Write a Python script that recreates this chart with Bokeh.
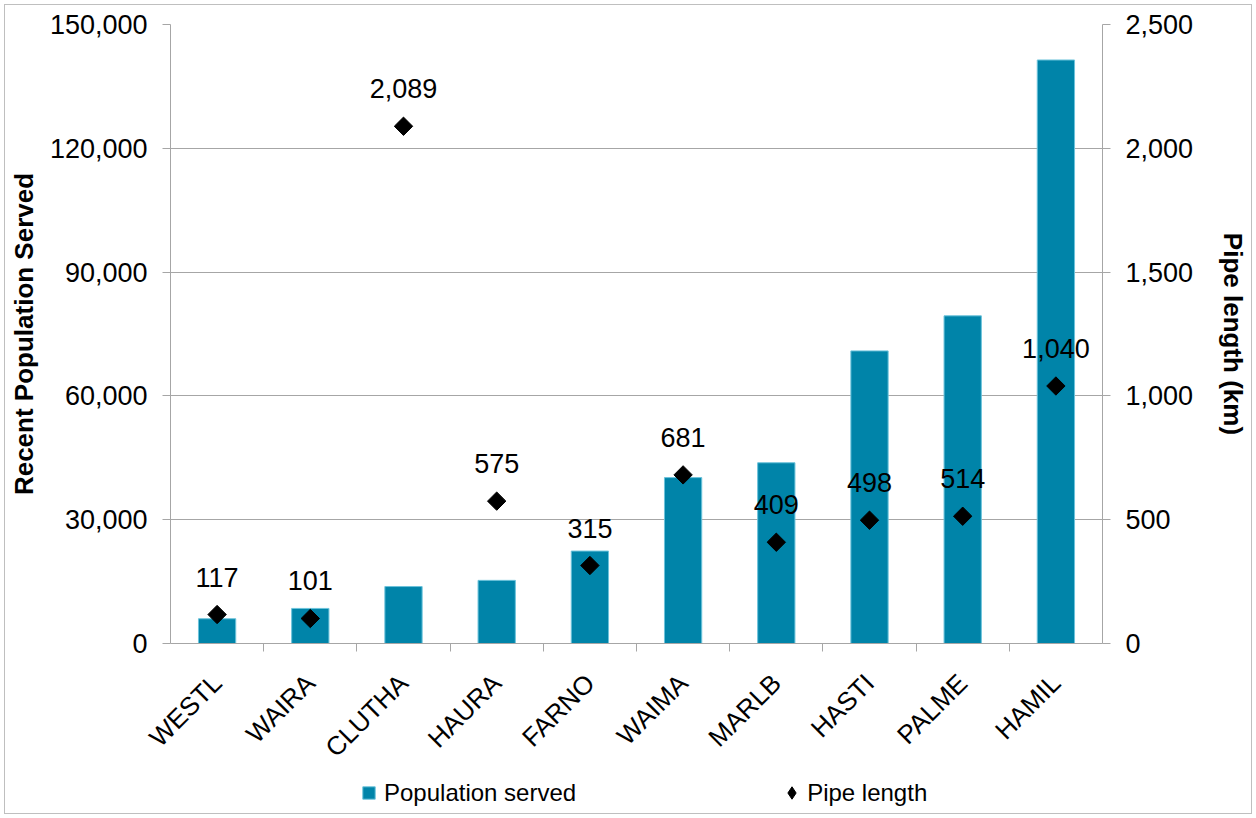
from math import pi

from bokeh.core.properties import value
from bokeh.embed import file_html
from bokeh.layouts import column
from bokeh.models import (CategoricalAxis, ColumnDataSource, CustomLabelingPolicy,
                          FactorRange, FixedTicker, Legend, LegendItem, LinearAxis,
                          NumeralTickFormatter, Range1d)
from bokeh.plotting import figure
from bokeh.resources import INLINE

# Water supply schemes
schemes = ["WESTL", "WAIRA", "CLUTHA", "HAURA", "FARNO",
           "WAIMA", "MARLB", "HASTI", "PALME", "HAMIL"]
population_served = [6000, 8500, 13800, 15300, 22400, 40200, 43800, 70900, 79400, 141400]
pipe_length_km = [117, 101, 2089, 575, 315, 681, 409, 498, 514, 1040]

pop_ticks = [0, 30000, 60000, 90000, 120000, 150000]
pipe_ticks = [0, 500, 1000, 1500, 2000, 2500]

FONT = "Liberation Sans"
GRID = "#a6a6a6"
BAR = "#0084a9"
BAR_EDGE = "#6cc3db"

src = ColumnDataSource(dict(
    scheme=schemes,
    pop=population_served,
    pipe=pipe_length_km,
    label=[f"{v:,}" for v in pipe_length_km],
))

p = figure(
    width=1246, height=772,
    x_range=FactorRange(*schemes, range_padding=0),
    y_range=Range1d(0, 150000),
    x_axis_location=None, y_axis_location=None,
    output_backend="svg", toolbar_location=None,
    min_border_left=160, min_border_right=148,
    min_border_top=19, min_border_bottom=134,
)
p.outline_line_color = None
p.background_fill_color = "white"
p.xgrid.grid_line_color = None
p.ygrid.ticker = FixedTicker(ticks=pop_ticks)
p.ygrid.grid_line_color = GRID

p.extra_y_ranges = {"pipe": Range1d(0, 2500)}
# one slot per category edge, used only to place the tick marks between bars
edges = [str(i) for i in range(len(schemes) + 1)]
p.extra_x_ranges = {"edges": FactorRange(*edges, range_padding=-1 / len(edges),
                                         range_padding_units="percent")}


def style_axis(ax):
    ax.axis_line_color = GRID
    ax.major_tick_line_color = GRID
    ax.minor_tick_line_color = None
    ax.major_tick_in = 0
    ax.major_tick_out = 8
    ax.major_label_text_font = FONT
    ax.major_label_text_font_size = "27px"
    ax.major_label_text_color = "black"
    ax.axis_label_text_font = FONT
    ax.axis_label_text_font_size = "26px"
    ax.axis_label_text_font_style = "bold"
    ax.axis_label_text_color = "black"


left = LinearAxis(ticker=FixedTicker(ticks=pop_ticks),
                  formatter=NumeralTickFormatter(format="0,0"),
                  axis_label="Recent Population Served")
style_axis(left)
left.major_label_standoff = 15
left.axis_label_standoff = 8
p.add_layout(left, "left")

right = LinearAxis(y_range_name="pipe", ticker=FixedTicker(ticks=pipe_ticks),
                   formatter=NumeralTickFormatter(format="0,0"),
                   axis_label="Pipe length (km)")
style_axis(right)
right.major_label_standoff = 15
right.axis_label_standoff = 22
p.add_layout(right, "right")

# tick marks only: drop every label of the edge axis
edge_axis = CategoricalAxis(x_range_name="edges")
style_axis(edge_axis)
edge_axis.major_label_text_font_size = "0px"
edge_axis.major_label_standoff = 0
edge_axis.major_label_policy = CustomLabelingPolicy(code="""
    try {
        for (const i of Array.from(indices)) indices.unset(i)
    } catch (e) {}
    return indices
""")
p.add_layout(edge_axis, "below")

cat_axis = CategoricalAxis()
style_axis(cat_axis)
cat_axis.major_label_text_font_size = "26px"
cat_axis.axis_line_color = None
cat_axis.major_tick_line_color = None
cat_axis.major_tick_out = 0
cat_axis.major_label_orientation = pi / 4
cat_axis.major_label_standoff = 27
p.add_layout(cat_axis, "below")

bars = p.vbar(x="scheme", top="pop", width=0.4, source=src,
              fill_color=BAR, line_color=BAR_EDGE, line_width=1)

pts = p.scatter(x="scheme", y="pipe", y_range_name="pipe", source=src,
                marker="square", angle=pi / 4, size=13,
                fill_color="black", line_color="black")

p.text(x="scheme", y="pipe", text="label", y_range_name="pipe", source=src,
       text_font=value(FONT), text_font_size="27px", text_color="black",
       text_align="center", text_baseline="bottom", y_offset=-28)

# legend strip under the chart; its key glyphs sit above the strip's y range
lg = figure(
    width=1246, height=36,
    x_range=FactorRange(*schemes), y_range=Range1d(-1, 0),
    x_axis_location=None, y_axis_location=None,
    output_backend="svg", toolbar_location=None,
    min_border_left=160, min_border_right=148,
    min_border_top=0, min_border_bottom=0,
)
lg.outline_line_color = None
lg.xgrid.grid_line_color = None
lg.ygrid.grid_line_color = None

bar_key = lg.scatter(x="scheme", y="pop", source=src,
                     marker="square", size=13, fill_color=BAR, line_color=BAR_EDGE)
pipe_key = lg.scatter(x="scheme", y="pipe", source=src,
                      marker="diamond", size=13,
                      fill_color="black", line_color="black")

legend = Legend(
    items=[LegendItem(label="Population served", renderers=[bar_key]),
           LegendItem(label="Pipe length", renderers=[pipe_key])],
    orientation="horizontal", location=(183, 5),
    glyph_width=31, glyph_height=31, label_standoff=0, spacing=200,
    label_text_font=FONT, label_text_font_size="24px", label_text_color="black",
    border_line_color=None, background_fill_alpha=0,
    padding=0, margin=0,
)
lg.add_layout(legend, "center")

page = column(p, lg, spacing=0)
page.styles = {"border": "1px solid #bfbfbf", "margin": "4px"}

open("out.html", "w").write(file_html(page, INLINE))
